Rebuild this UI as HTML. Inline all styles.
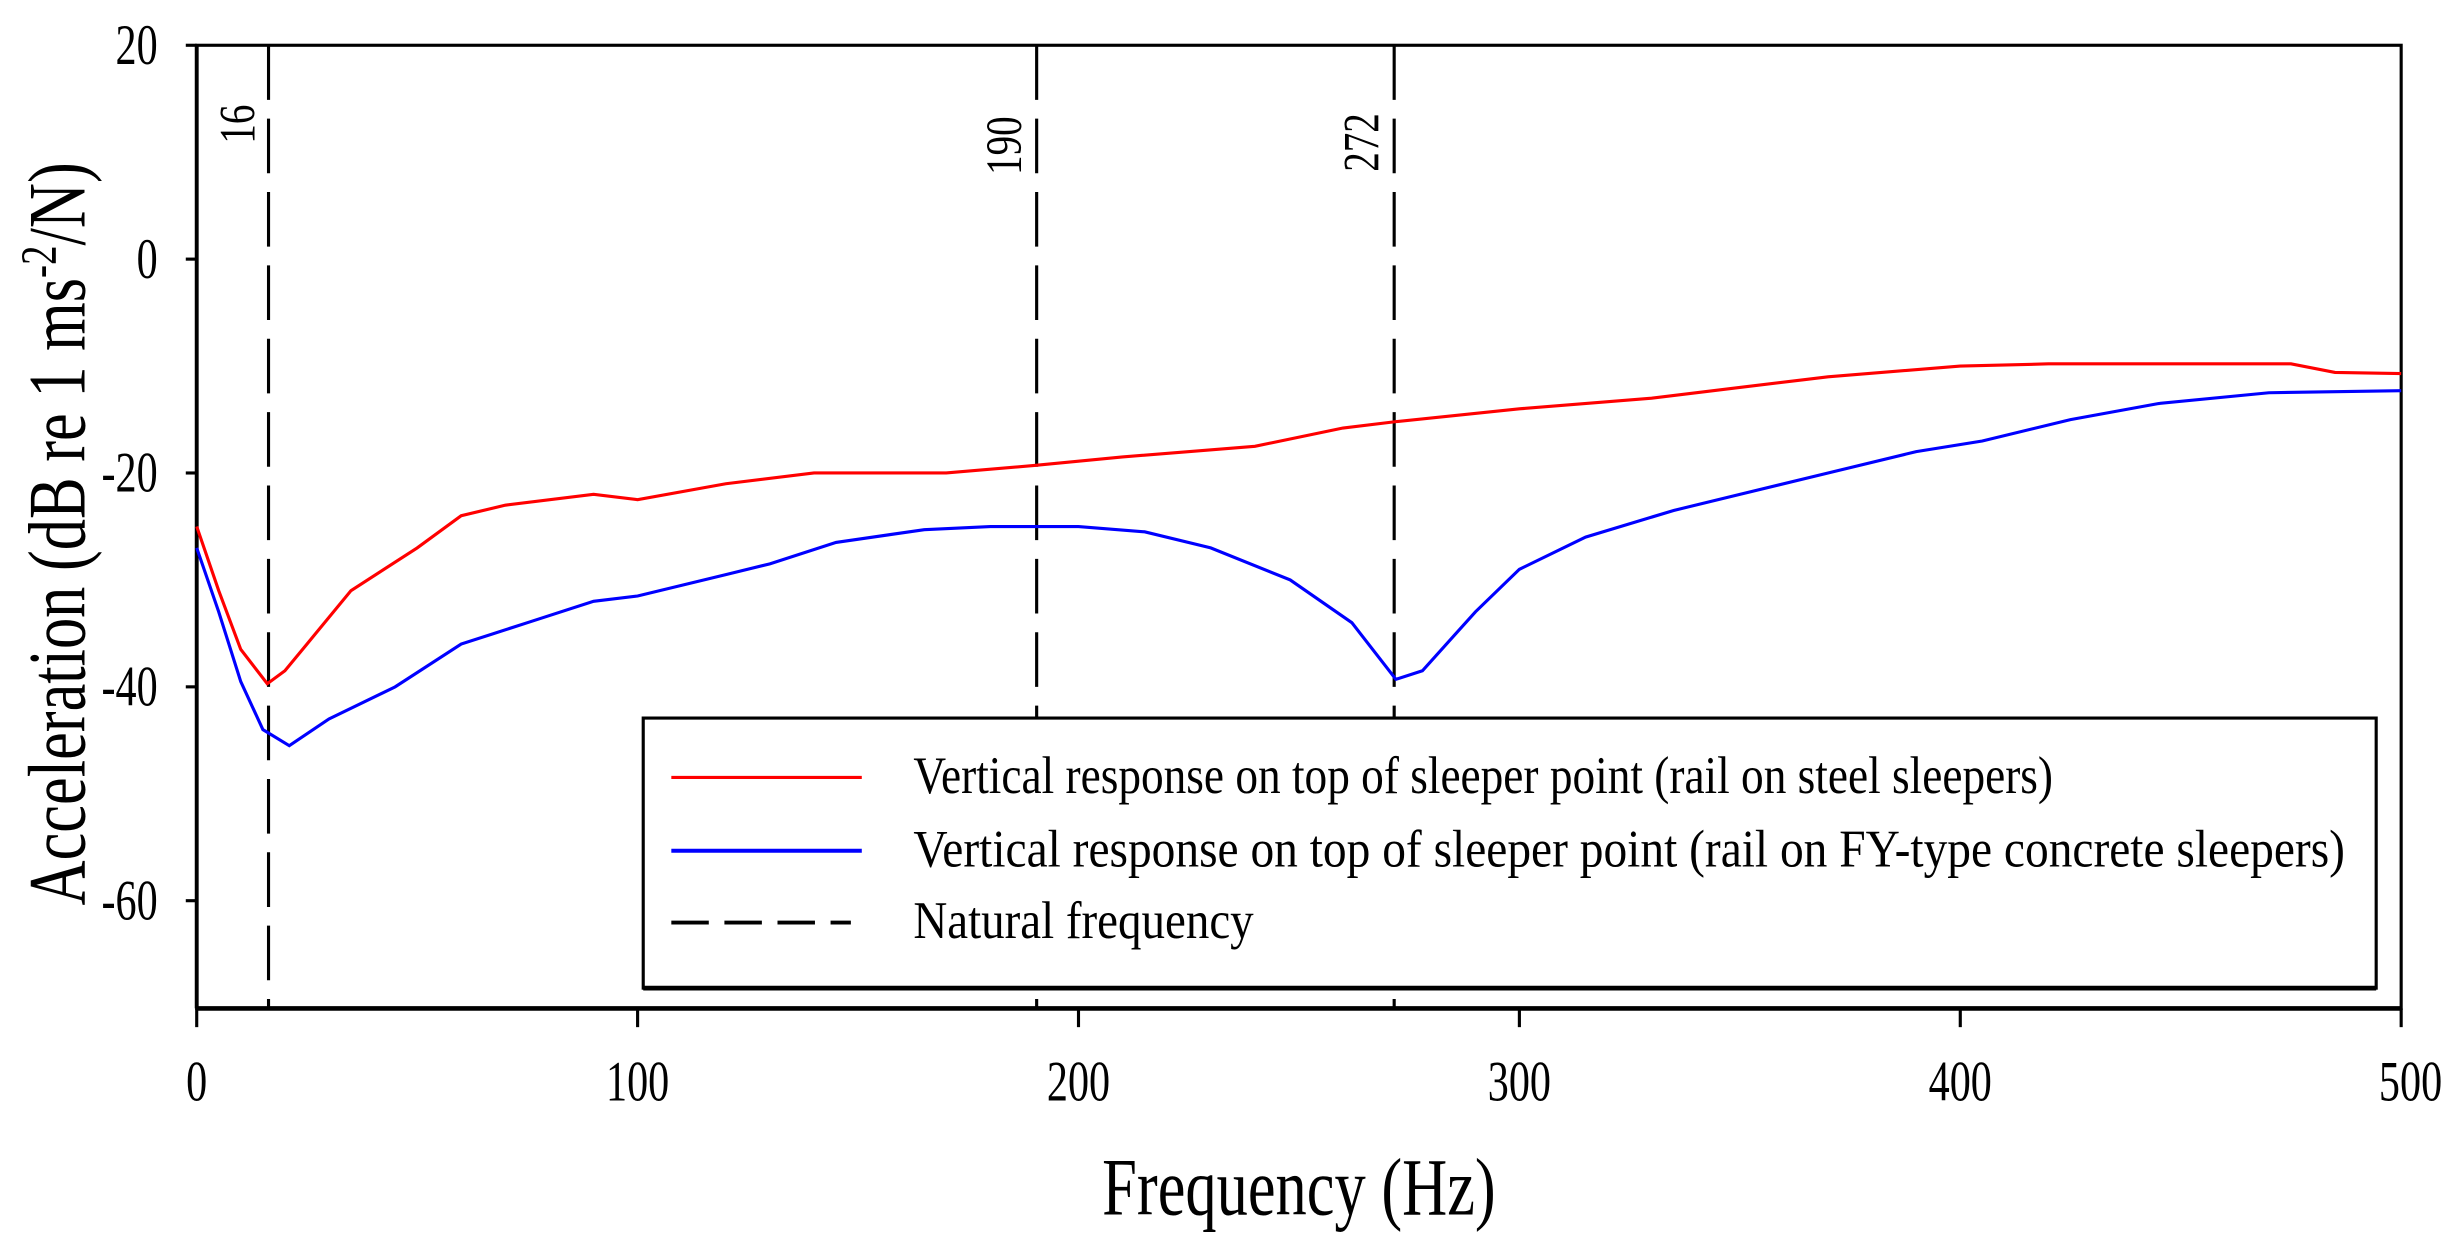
<!DOCTYPE html>
<html><head><meta charset="utf-8"><style>html,body{margin:0;padding:0;background:#fff}svg{display:block}text{font-family:"Liberation Serif",serif;fill:#000}</style></head>
<body>
<svg width="2448" height="1241" viewBox="0 0 1568 795" preserveAspectRatio="none" xmlns="http://www.w3.org/2000/svg">
<rect width="1568" height="795" fill="#fff"/>
<rect x="126" y="29" width="1412" height="617" fill="none" stroke="#000" stroke-width="2"/>
<line x1="126" y1="646" x2="1538" y2="646" stroke="#000" stroke-width="3"/>
<line x1="126" y1="29" x2="126" y2="646" stroke="#000" stroke-width="2.5"/>
<g stroke="#000" stroke-width="2">
<line x1="119" y1="29" x2="126" y2="29"/><line x1="119" y1="166" x2="126" y2="166"/>
<line x1="119" y1="303" x2="126" y2="303"/><line x1="119" y1="440" x2="126" y2="440"/>
<line x1="119" y1="577" x2="126" y2="577"/>
<line x1="126" y1="646" x2="126" y2="658"/><line x1="408.4" y1="646" x2="408.4" y2="658"/>
<line x1="690.8" y1="646" x2="690.8" y2="658"/><line x1="973.2" y1="646" x2="973.2" y2="658"/>
<line x1="1255.6" y1="646" x2="1255.6" y2="658"/><line x1="1538" y1="646" x2="1538" y2="658"/>
</g>
<g font-size="27" text-anchor="end">
<text transform="translate(101,41) scale(1,1.35)">20</text>
<text transform="translate(101,178) scale(1,1.35)">0</text>
<text transform="translate(101,315) scale(1,1.35)">-20</text>
<text transform="translate(101,452) scale(1,1.35)">-40</text>
<text transform="translate(101,589) scale(1,1.35)">-60</text>
</g>
<g font-size="27" text-anchor="middle">
<text transform="translate(126,705) scale(1,1.35)">0</text>
<text transform="translate(408.4,705) scale(1,1.35)">100</text>
<text transform="translate(690.8,705) scale(1,1.35)">200</text>
<text transform="translate(973.2,705) scale(1,1.35)">300</text>
<text transform="translate(1255.6,705) scale(1,1.35)">400</text>
<text transform="translate(1544,705) scale(1,1.35)">500</text>
</g>
<text transform="translate(832,778) scale(1,1.3)" font-size="40" text-anchor="middle">Frequency (Hz)</text>
<text transform="translate(54,342) rotate(-90) scale(1,1.3)" font-size="40" text-anchor="middle">Acceleration (dB re 1 ms<tspan dy="-14" font-size="25">-2</tspan><tspan dy="14">/N)</tspan></text>
<g stroke="#000" stroke-width="2" stroke-dasharray="35,12">
<line x1="172" y1="29" x2="172" y2="646"/><line x1="664" y1="29" x2="664" y2="646"/><line x1="893" y1="29" x2="893" y2="646"/>
</g>
<g font-size="25">
<text transform="translate(163,92) rotate(-90) scale(1,1.3)">16</text>
<text transform="translate(654,112) rotate(-90) scale(1,1.3)">190</text>
<text transform="translate(883,110) rotate(-90) scale(1,1.3)">272</text>
</g>
<polyline fill="none" stroke="#ff0000" stroke-width="2" points="126,337.3 140.1,378.4 154.2,416 171.2,438 182.5,429.7 196.6,412.6 224.8,378.4 267.2,351 295.4,330.4 323.7,323.6 380.2,316.7 408.4,320.1 464.9,309.9 521.4,303 606.1,303 662.6,298.2 719,292.7 803.8,285.9 860.2,274.2 894.1,270.1 973.2,261.9 1057.9,255.1 1114.4,248.2 1170.9,241.4 1255.6,234.5 1312.1,233.1 1467.4,233.1 1495.6,238.6 1538,239.3"/>
<polyline fill="none" stroke="#0000ff" stroke-width="2" points="126,351 140.1,392 154.2,436.6 168.4,467.4 185.3,477.7 210.7,460.6 253.1,440 295.4,412.6 337.8,398.9 380.2,385.2 408.4,381.8 464.9,368.1 493.1,361.2 535.5,347.5 592,339.3 634.3,337.3 690.8,337.3 733.2,340.7 775.5,351 826.4,371.5 865.9,398.9 894.1,435.2 911.1,429.7 945,392 973.2,364.7 1015.6,344.1 1072,327 1114.4,316.7 1170.9,303 1227.4,289.3 1269.7,282.5 1326.2,268.8 1382.7,258.5 1453.3,251.6 1538,250.3"/>
<rect x="412" y="460" width="1110" height="173" fill="#fff" stroke="#000" stroke-width="2"/>
<line x1="412" y1="633" x2="1522" y2="633" stroke="#000" stroke-width="3"/>
<line x1="430" y1="498" x2="552" y2="498" stroke="#ff0000" stroke-width="2"/>
<line x1="430" y1="545" x2="552" y2="545" stroke="#0000ff" stroke-width="2.5"/>
<line x1="430" y1="591" x2="545" y2="591" stroke="#000" stroke-width="2.5" stroke-dasharray="24,10"/>
<g font-size="26">
<text transform="translate(585,508) scale(1,1.3)" textLength="730" lengthAdjust="spacingAndGlyphs">Vertical response on top of sleeper point (rail on steel sleepers)</text>
<text transform="translate(585,555) scale(1,1.3)" textLength="917" lengthAdjust="spacingAndGlyphs">Vertical response on top of sleeper point (rail on FY-type concrete sleepers)</text>
<text transform="translate(585,601) scale(1,1.3)" textLength="218" lengthAdjust="spacingAndGlyphs">Natural frequency</text>
</g>
</svg>
</body></html>
